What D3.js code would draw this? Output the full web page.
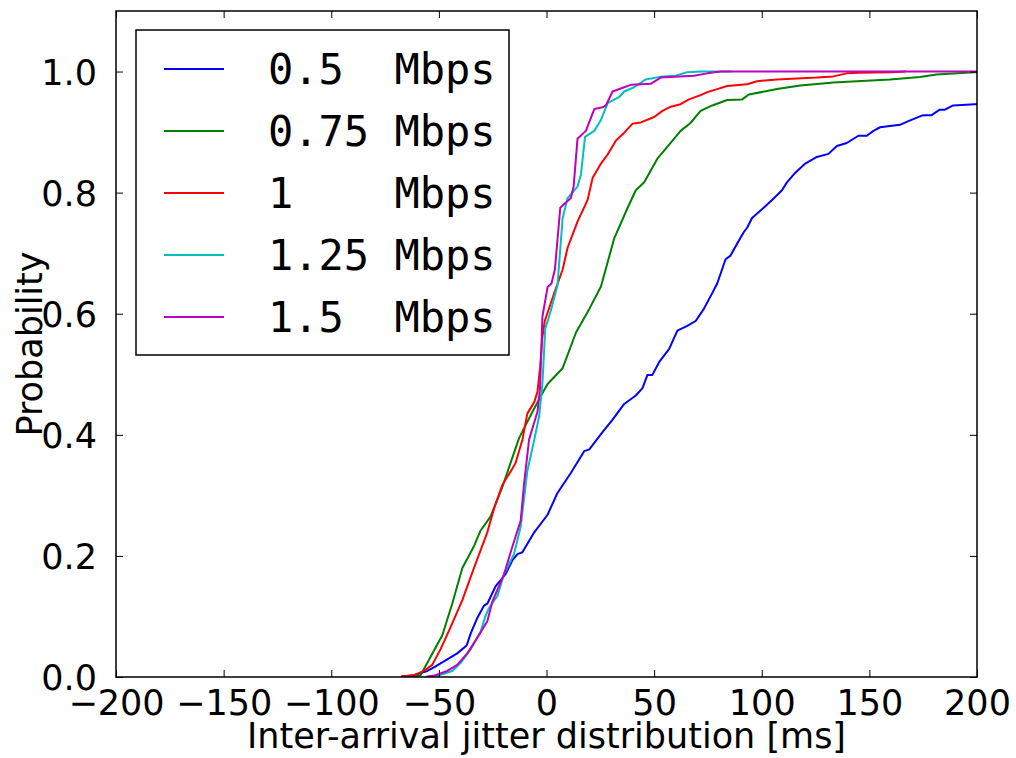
<!DOCTYPE html>
<html>
<head>
<meta charset="utf-8">
<script src="https://cdn.jsdelivr.net/npm/d3@7"></script>
<style>
  body { margin: 0; background: #fff; }
  svg { display: block; }
  text { font-family: "DejaVu Sans", sans-serif; fill: #000; }
  .legend text { font-family: "DejaVu Sans Mono", monospace; white-space: pre; }
</style>
</head>
<body>
<svg id="canvas" width="1016" height="758"></svg>
<script>
// legend labels and colours
const labels = ["0.5  Mbps", "0.75 Mbps", "1    Mbps", "1.25 Mbps", "1.5  Mbps"];
const colors = ["#0000ff", "#008000", "#ff0000", "#00bfbf", "#bf00bf"];

const xTicks = [-200, -150, -100, -50, 0, 50, 100, 150, 200];
const yTicks = [0.0, 0.2, 0.4, 0.6, 0.8, 1.0];

// CDF points [jitter ms, probability]
const cdf050 = [
  [-67.5, 0.001], [-61.6, 0.003], [-55.4, 0.01], [-52.3, 0.016], [-46.1, 0.029],
  [-41.5, 0.039], [-37.1, 0.052], [-35.2, 0.072], [-32.1, 0.098], [-29, 0.118],
  [-27.5, 0.121], [-23.6, 0.15], [-19, 0.17], [-15.8, 0.193], [-13.5, 0.203],
  [-11.2, 0.206], [-5.7, 0.239], [0.5, 0.268], [5.1, 0.304], [11.3, 0.337],
  [17.5, 0.373], [19.9, 0.376], [26.1, 0.405], [30.7, 0.425], [36.1, 0.451],
  [41.5, 0.465], [44.6, 0.477], [46.9, 0.499], [49.2, 0.499], [52.3, 0.52],
  [57, 0.542], [60.8, 0.572], [65.4, 0.58], [69.3, 0.588], [73.1, 0.608],
  [77, 0.634], [79.3, 0.65], [83.2, 0.69], [85.5, 0.696], [88.6, 0.716],
  [91.7, 0.735], [93.2, 0.742], [95.5, 0.758], [100.9, 0.775], [104.8, 0.788],
  [109.4, 0.804], [111.7, 0.817], [115.6, 0.833], [120.2, 0.848], [125.6, 0.859],
  [131, 0.864], [134.9, 0.877], [139.5, 0.882], [144.9, 0.894], [148.8, 0.894],
  [151.9, 0.902], [155, 0.908], [164.2, 0.912], [168.1, 0.918], [175, 0.928],
  [178.9, 0.928], [182.7, 0.937], [185.1, 0.937], [188.9, 0.944], [198.9, 0.946],
  [200, 0.946]
];

const cdf075 = [
  [-62.5, 0], [-58.5, 0.003], [-53.9, 0.033], [-48.4, 0.069], [-43.8, 0.121],
  [-39.1, 0.18], [-33.7, 0.216], [-30.6, 0.242], [-26, 0.265], [-20.5, 0.314],
  [-12.7, 0.395], [-6.5, 0.438], [-2.6, 0.464], [0.5, 0.484], [7.5, 0.51],
  [13.7, 0.569], [19.9, 0.608], [25.3, 0.645], [31.5, 0.725], [37.7, 0.775],
  [41.5, 0.804], [45.4, 0.817], [51.5, 0.856], [56.9, 0.879], [62.3, 0.902],
  [66.9, 0.915], [71.6, 0.935], [77, 0.944], [83.9, 0.953], [90.9, 0.954],
  [94, 0.962], [107.1, 0.971], [117.9, 0.977], [133.3, 0.982], [159.6, 0.987],
  [173.5, 0.991], [181.2, 0.995], [198.9, 0.999], [200, 0.999]
];

const cdf100 = [
  [-67.5, 0.001], [-61.6, 0.003], [-57, 0.01], [-53.1, 0.02], [-49.2, 0.046],
  [-44.6, 0.082], [-39.1, 0.127], [-33.7, 0.18], [-27.5, 0.239], [-24.4, 0.278],
  [-20.5, 0.317], [-16.6, 0.34], [-14.4, 0.353], [-11.2, 0.392], [-8.9, 0.435],
  [-5.7, 0.454], [-4.2, 0.471], [-3, 0.51], [-1.9, 0.562], [-0.8, 0.588],
  [3.6, 0.634], [7.5, 0.673], [9.8, 0.709], [14.4, 0.752], [19.1, 0.788],
  [21.4, 0.824], [25.3, 0.848], [28.4, 0.863], [32.3, 0.886], [36.1, 0.899],
  [40, 0.914], [43.8, 0.916], [50, 0.925], [53.9, 0.935], [57.7, 0.942],
  [62.3, 0.946], [66.2, 0.954], [71.6, 0.961], [74.7, 0.966], [79.3, 0.971],
  [83.9, 0.976], [93.2, 0.979], [97.8, 0.984], [107.1, 0.987], [125.6, 0.99],
  [133.3, 0.992], [139.5, 0.997], [144.9, 0.998], [160, 0.999], [167, 1.0]
];

const cdf125 = [
  [-56.2, 0], [-50, 0.003], [-43.8, 0.01], [-39.9, 0.023], [-35.2, 0.046],
  [-30.6, 0.075], [-28.3, 0.101], [-26.7, 0.114], [-22.8, 0.134], [-19.7, 0.17],
  [-15.1, 0.203], [-12, 0.248], [-8.9, 0.34], [-5.7, 0.392], [-3.4, 0.431],
  [-1.9, 0.484], [-0.6, 0.575], [2, 0.605], [5.1, 0.647], [7.5, 0.758],
  [9.8, 0.791], [14.4, 0.81], [16, 0.83], [17.9, 0.892], [22.2, 0.902],
  [25.3, 0.92], [28.4, 0.948], [33.8, 0.958], [36.1, 0.967], [40.7, 0.974],
  [46.1, 0.987], [53.9, 0.992], [60, 0.993], [65.4, 0.999], [71.6, 1.0],
  [86, 1.0]
];

const cdf150 = [
  [-56.2, 0], [-51.6, 0.003], [-46.1, 0.01], [-41.5, 0.02], [-36.8, 0.039],
  [-31.4, 0.069], [-27.5, 0.092], [-25.2, 0.124], [-19.7, 0.17], [-15.8, 0.216],
  [-12, 0.258], [-10.4, 0.32], [-8.1, 0.392], [-4.2, 0.438], [-3, 0.477],
  [-1.9, 0.595], [0.5, 0.644], [2.3, 0.65], [3.9, 0.673], [6.4, 0.775],
  [11.3, 0.791], [12.6, 0.81], [14.4, 0.889], [18.3, 0.902], [22.2, 0.938],
  [26.1, 0.941], [27.6, 0.944], [30.7, 0.967], [36.1, 0.974], [39.2, 0.978],
  [48.5, 0.98], [53.1, 0.99], [68.5, 0.993], [74.7, 0.997], [80.9, 1.0],
  [200, 1.0]
];

const series = [cdf050, cdf075, cdf100, cdf125, cdf150];

const svg = d3.select("#canvas");
const margin = { left: 116, right: 39, top: 11, bottom: 81 };
const width = 1016 - margin.left - margin.right;
const height = 758 - margin.top - margin.bottom;

const x = d3.scaleLinear().domain([-200, 200]).range([0, width]);
const y = d3.scaleLinear().domain([0, 1.1]).range([height, 0]);

const plot = svg.append("g").attr("transform", `translate(${margin.left}, ${margin.top})`);

plot.append("clipPath").attr("id", "clip")
  .append("rect").attr("width", width).attr("height", height);

const line = d3.line().x((d) => x(d[0])).y((d) => y(d[1]));

plot.append("g").attr("clip-path", "url(#clip)")
  .selectAll("path")
  .data(series)
  .enter()
  .append("path")
  .attr("d", line)
  .attr("fill", "none")
  .attr("stroke", (d, i) => colors[i])
  .attr("stroke-width", 2)
  .attr("stroke-linejoin", "round");

// axes, matplotlib classic look: inward ticks on all four sides
const fmtX = (d) => (d < 0 ? "\u2212" + Math.abs(d) : String(d));
const tickLen = 7;

const xAxis = plot.append("g").attr("transform", `translate(0, ${height})`)
  .call(d3.axisBottom(x).tickValues(xTicks).tickFormat(fmtX).tickSizeInner(-tickLen).tickSizeOuter(0).tickPadding(tickLen + 6));
const xAxisTop = plot.append("g")
  .call(d3.axisTop(x).tickValues(xTicks).tickFormat("").tickSizeInner(-tickLen).tickSizeOuter(0));
const yAxis = plot.append("g")
  .call(d3.axisLeft(y).tickValues(yTicks).tickFormat(d3.format(".1f")).tickSizeInner(-tickLen).tickSizeOuter(0).tickPadding(tickLen + 12));
const yAxisRight = plot.append("g").attr("transform", `translate(${width}, 0)`)
  .call(d3.axisRight(y).tickValues(yTicks).tickFormat("").tickSizeInner(-tickLen).tickSizeOuter(0));

[xAxis, xAxisTop, yAxis, yAxisRight].forEach((a) => {
  a.select(".domain").remove();
  a.selectAll(".tick line").attr("stroke", "#000").attr("stroke-width", 1);
  a.selectAll("text").attr("font-size", 35).attr("font-family", "DejaVu Sans").attr("fill", "#000");
});
yAxis.selectAll("text").attr("dy", "0.36em");

plot.append("rect")
  .attr("width", width).attr("height", height)
  .attr("fill", "none").attr("stroke", "#000").attr("stroke-width", 1.5);

svg.append("text")
  .attr("x", margin.left + width / 2).attr("y", 748)
  .attr("text-anchor", "middle").attr("font-size", 35)
  .text("Inter-arrival jitter distribution [ms]");

svg.append("text")
  .attr("transform", `translate(42, ${margin.top + height / 2}) rotate(-90)`)
  .attr("text-anchor", "middle").attr("font-size", 35)
  .text("Probability");

// legend
const legend = svg.append("g").attr("class", "legend");
legend.append("rect")
  .attr("x", 136).attr("y", 30).attr("width", 373).attr("height", 325)
  .attr("fill", "#fff").attr("stroke", "#000").attr("stroke-width", 1.5);

const rows = legend.selectAll("g.row")
  .data(labels)
  .enter()
  .append("g")
  .attr("class", "row")
  .attr("transform", (d, i) => `translate(0, ${69 + i * 62})`);
rows.append("line")
  .attr("x1", 164).attr("x2", 224)
  .attr("stroke", (d, i) => colors[i]).attr("stroke-width", 2);
rows.append("text")
  .attr("x", 268).attr("dy", "0.36em")
  .attr("font-size", 42)
  .text((d) => d);
</script>
</body>
</html>
